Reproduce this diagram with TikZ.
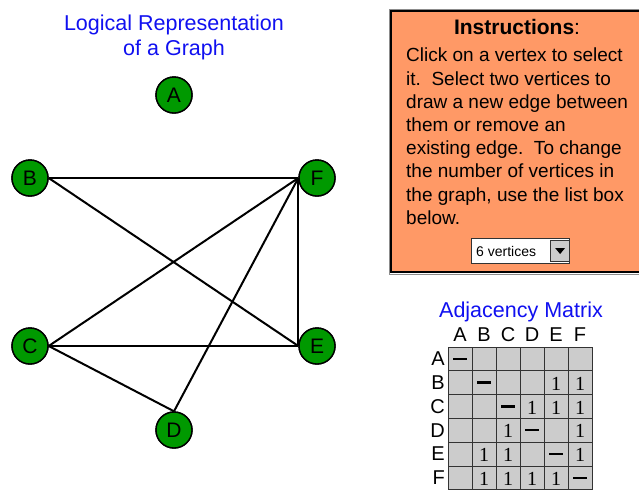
\documentclass[tikz,border=0pt]{standalone}
\usepackage{fontspec}
\setmainfont{Liberation Sans}
\newfontfamily\numfont{Liberation Serif}
\usetikzlibrary{positioning,arrows.meta}
\definecolor{vxfill}{HTML}{009900}
\definecolor{boxfill}{HTML}{FF9966}
\definecolor{cellfill}{HTML}{CCCCCC}
\definecolor{titleblue}{HTML}{1010F0}

\begin{document}
\begin{tikzpicture}[x=1pt, y=-1pt,
  vertex/.style={circle, draw=black, line width=1.4pt, fill=vxfill,
                 minimum size=36pt, inner sep=0pt, font=\fontsize{21}{21}\selectfont},
  edge/.style={draw=black, line width=2pt},
  heading/.style={text=titleblue, align=center, font=\fontsize{21.5}{25}\selectfont},
  label/.style={font=\fontsize{20}{20}\selectfont, inner sep=0pt},
  cell/.style={draw=black!80, line width=0.8pt, fill=cellfill},
  entry/.style={font=\numfont\fontsize{20}{20}\selectfont, inner sep=0pt},
  diag/.style={inner sep=0pt}
]
\useasboundingbox (0,0) rectangle (639,491);
% graph
\node[heading] (title) at (174,37) {Logical Representation\\of a Graph};
\node[vertex] (A) at (174,95) {A};
\node[vertex] (B) at (30,178) {B};
\node[vertex] (F) at (317,178) {F};
\node[vertex] (C) at (30,346) {C};
\node[vertex] (E) at (317,346) {E};
\node[vertex] (D) at (174,430) {D};
\foreach \a/\b in {B.east/F.west, B.east/E.west, C.east/F.west, C.east/E.west,
                   C.east/D.north, D.north/F.west, E.west/F.west}
  \draw[edge] (\a) -- (\b);
\foreach \v in {A,B,C,D,E,F} \node[vertex] at (\v) {\v};
% instructions
\draw[black!45, line width=1pt] (389,9) rectangle (645,274);
\draw[black, line width=2.2pt, fill=boxfill] (391,11) rectangle (645,272);
\node[label, font=\fontsize{21}{21}\selectfont] (ihead) at (517,27) {\textbf{Instructions}:};
\node[label, anchor=north west, align=left, font=\fontsize{19}{23.2}\selectfont]
  (itext) at (406,48) {Click on a vertex to select\\it.\ \ Select two vertices to\\draw a new edge between\\them or remove an\\existing edge.\ \ To change\\the number of vertices in\\the graph, use the list box\\below.};
\node[draw=black!80, line width=1pt, fill=white, minimum width=98pt, minimum height=25pt,
      anchor=north west, inner sep=0pt] (lbox) at (471,238) {};
\node[anchor=west, inner sep=0pt, font=\fontsize{14}{14}\selectfont] (lval) at (476,251) {6 vertices};
\node[draw=black!80, line width=0.8pt, fill=cellfill, minimum width=19pt, minimum height=21pt,
      anchor=east, inner sep=0pt] (lbtn) at (lbox.east) {};
\fill[black] ([xshift=-5pt,yshift=3pt]lbtn.center) -- ([xshift=5pt,yshift=3pt]lbtn.center)
  -- ([yshift=-3pt]lbtn.center) -- cycle;
% adjacency matrix
\node[heading] (mtitle) at (521,312) {Adjacency Matrix};
\foreach \v [count=\i] in {A,B,C,D,E,F} {
  \node[label] (col\v) at (436+24*\i,335) {\v};
  \node[label, anchor=east] (row\v) at (445,335+23.8*\i) {\v};
  \foreach \j in {1,...,6}
    \draw[cell] (424+24*\j,323.2+23.8*\i) rectangle ++(24,23.8);
  \node[diag] (dg\v) at (436+24*\i,335+23.8*\i) {\rule[0pt]{14pt}{2.4pt}};
}
\foreach \r/\c in {2/5,2/6,3/4,3/5,3/6,4/3,4/6,5/2,5/3,5/6,6/2,6/3,6/4,6/5}
  \node[entry] (m\r\c) at (436+24*\c,336+23.8*\r) {1};
\end{tikzpicture}
\end{document}
